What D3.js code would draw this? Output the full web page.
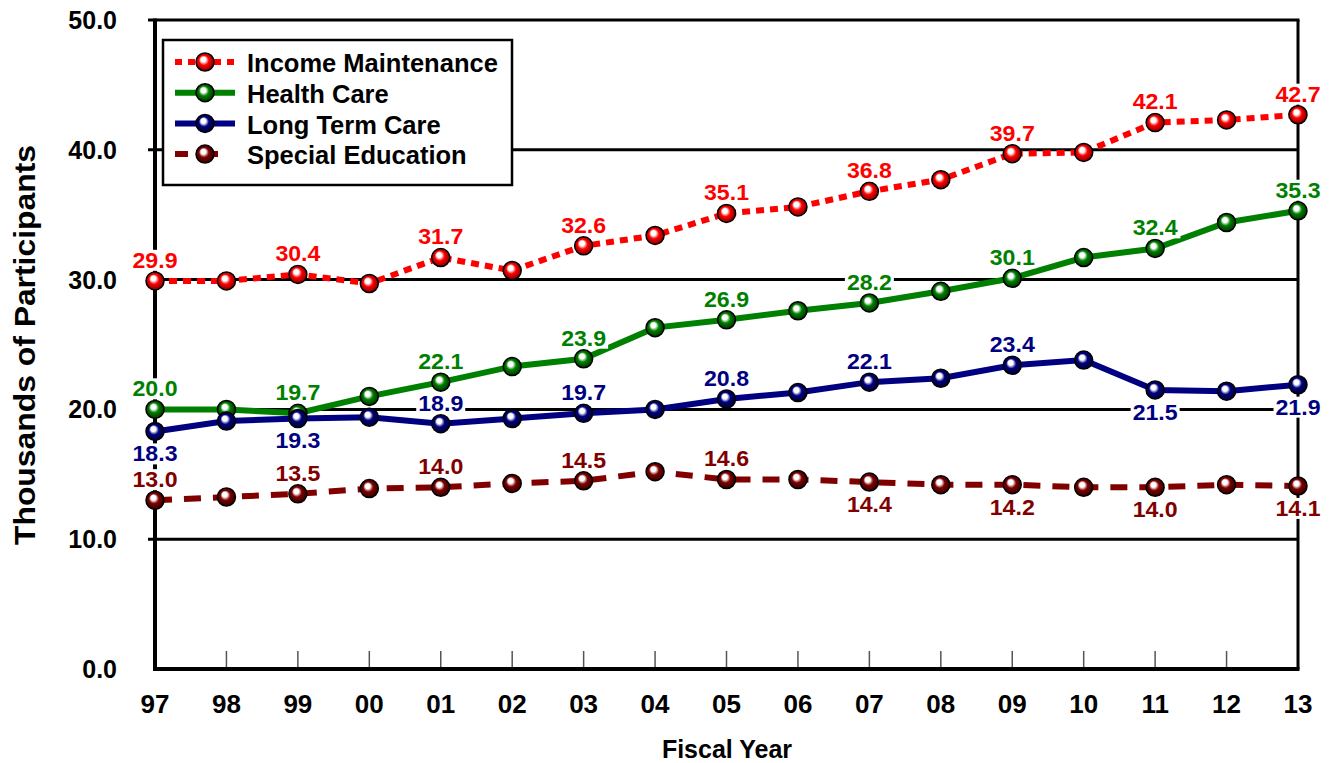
<!DOCTYPE html>
<html><head><meta charset="utf-8">
<script src="https://cdn.jsdelivr.net/npm/d3@7"></script>
<style>body{margin:0;background:#fff}svg{display:block}text{font-family:"Liberation Sans",Arial,sans-serif;font-weight:bold}</style>
</head><body><svg id="c" width="1332" height="763"></svg>
<script>
const years = ["97","98","99","00","01","02","03","04","05","06","07","08","09","10","11","12","13"];
const yTicks = [0,10,20,30,40,50];
const seriesNames = ["Income Maintenance","Health Care","Long Term Care","Special Education"];
const incomeMaintenance = [29.9,29.9,30.4,29.7,31.7,30.7,32.6,33.4,35.1,35.6,36.8,37.7,39.7,39.8,42.1,42.3,42.7];
const healthCare = [20.0,20.0,19.7,21.0,22.1,23.3,23.9,26.3,26.9,27.6,28.2,29.1,30.1,31.7,32.4,34.4,35.3];
const longTermCare = [18.3,19.1,19.3,19.4,18.9,19.3,19.7,20.0,20.8,21.3,22.1,22.4,23.4,23.8,21.5,21.4,21.9];
const specialEducation = [13.0,13.25,13.5,13.9,14.0,14.3,14.5,15.2,14.6,14.6,14.4,14.2,14.2,14.0,14.0,14.2,14.1];
// label placement for labelled (even-index) points: 1 = above, -1 = below
const imLabelPos = [1,1,1,1,1,1,1,1,1];
const hcLabelPos = [1,1,1,1,1,1,1,1,1];
const ltcLabelPos = [-1,-1,1,1,1,1,1,-1,-1];
const seLabelPos = [1,1,1,1,1,-1,-1,-1,-1];

const series = [
  {name:seriesNames[0], values:incomeMaintenance, color:"#FF0000", dark:"#700000", dash:"8,6", ldash:"7,6", pos:imLabelPos},
  {name:seriesNames[1], values:healthCare, color:"#008000", dark:"#002800", dash:null, ldash:null, pos:hcLabelPos},
  {name:seriesNames[2], values:longTermCare, color:"#000080", dark:"#000028", dash:null, ldash:null, pos:ltcLabelPos},
  {name:seriesNames[3], values:specialEducation, color:"#800000", dark:"#280000", dash:"17,12", ldash:"13,17", pos:seLabelPos}
];

const svg = d3.select("#c");
const L=155, R=1298, T=20, B=669;
const x = d3.scalePoint().domain(years).range([L,R]);
const y = d3.scaleLinear().domain([0,50]).range([B,T]);

const defs = svg.append("defs");
series.forEach((s,i)=>{
  const g = defs.append("radialGradient").attr("id","g"+i).attr("cx","50%").attr("cy","50%").attr("r","55%").attr("fx","38%").attr("fy","32%");
  g.append("stop").attr("offset","0%").attr("stop-color","#fff");
  g.append("stop").attr("offset","25%").attr("stop-color","#fff");
  g.append("stop").attr("offset","50%").attr("stop-color",s.color);
  g.append("stop").attr("offset","100%").attr("stop-color",s.dark);
});

// gridlines
svg.append("g").selectAll("line").data([10,20,30,40]).join("line")
  .attr("x1",L-7).attr("x2",R).attr("y1",d=>y(d)).attr("y2",d=>y(d))
  .attr("stroke","#000").attr("stroke-width",3);
// top border & right border
svg.append("line").attr("x1",L-7).attr("x2",R+1.5).attr("y1",y(50)).attr("y2",y(50)).attr("stroke","#000").attr("stroke-width",3);
svg.append("line").attr("x1",R).attr("x2",R).attr("y1",y(50)).attr("y2",B).attr("stroke","#000").attr("stroke-width",3);
// bottom ticks (inside)
svg.append("g").selectAll("line").data(years.slice(1,-1)).join("line")
  .attr("x1",d=>x(d)).attr("x2",d=>x(d)).attr("y1",B).attr("y2",B-18)
  .attr("stroke","#555").attr("stroke-width",1.5);
// axes
svg.append("line").attr("x1",L).attr("x2",L).attr("y1",T-1.5).attr("y2",B+2).attr("stroke","#000").attr("stroke-width",4);
svg.append("line").attr("x1",L-2).attr("x2",R+1.5).attr("y1",B).attr("y2",B).attr("stroke","#000").attr("stroke-width",4);

// y tick labels
svg.append("g").selectAll("text").data(yTicks).join("text")
  .attr("x",117).attr("y",d=>y(d)).attr("dy","0.36em").attr("text-anchor","end")
  .attr("font-size",25).text(d=>d3.format(".1f")(d));
// x tick labels
svg.append("g").selectAll("text").data(years).join("text")
  .attr("x",d=>x(d)).attr("y",704).attr("dy","0.36em").attr("text-anchor","middle")
  .attr("font-size",26).text(d=>d);
// axis titles
svg.append("text").attr("x",727).attr("y",749).attr("dy","0.36em").attr("text-anchor","middle").attr("font-size",25).text("Fiscal Year");
svg.append("text").attr("transform","translate(25,345) rotate(-90)").attr("dy","0.36em").attr("text-anchor","middle").attr("font-size",29)
  .attr("textLength",400).attr("lengthAdjust","spacingAndGlyphs").text("Thousands of Participants");

// lines
const line = d3.line().x((d,i)=>x(years[i])).y(d=>y(d));
series.forEach(s=>{
  svg.append("path").datum(s.values).attr("d",line).attr("fill","none")
    .attr("stroke",s.color).attr("stroke-width",6).attr("stroke-dasharray",s.dash);
});
// markers
series.forEach((s,i)=>{
  svg.append("g").selectAll("circle").data(s.values).join("circle")
    .attr("cx",(d,j)=>x(years[j])).attr("cy",d=>y(d)).attr("r",9)
    .attr("fill","url(#g"+i+")").attr("stroke","#000").attr("stroke-width",1.5);
});
// data labels
series.forEach(s=>{
  s.values.forEach((v,j)=>{
    if(j%2) return;
    const p = s.pos[j/2];
    const cx = x(years[j]), cy = y(v) + (p>0 ? -21 : 22);
    const g = svg.append("g");
    const t = g.append("text").attr("x",cx).attr("y",cy).attr("dy","0.36em").attr("text-anchor","middle")
      .attr("font-size",22).attr("textLength",45).attr("lengthAdjust","spacingAndGlyphs")
      .attr("fill",s.color).text(d3.format(".1f")(v));
    const bb = t.node().getBBox();
    g.insert("rect","text").attr("x",bb.x-2).attr("y",bb.y+2).attr("width",bb.width+4).attr("height",bb.height-4).attr("fill","#fff");
  });
});

// legend
const lg = svg.append("g");
lg.append("rect").attr("x",163).attr("y",40).attr("width",349).attr("height",145).attr("fill","#fff").attr("stroke","#000").attr("stroke-width",2.5);
series.forEach((s,i)=>{
  const yy = 62 + i*30.7;
  lg.append("line").attr("x1",175).attr("x2",235).attr("y1",yy).attr("y2",yy)
    .attr("stroke",s.color).attr("stroke-width",6).attr("stroke-dasharray",s.ldash);
  lg.append("circle").attr("cx",205).attr("cy",yy).attr("r",9).attr("fill","url(#g"+i+")").attr("stroke","#000").attr("stroke-width",1.5);
  lg.append("text").attr("x",247).attr("y",yy+1).attr("dy","0.36em").attr("font-size",25.5).text(s.name);
});
</script></body></html>
